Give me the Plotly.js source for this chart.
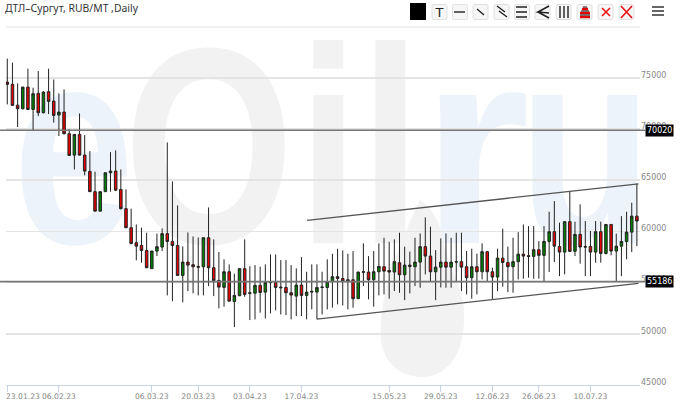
<!DOCTYPE html>
<html>
<head>
<meta charset="utf-8">
<script src="https://cdn.plot.ly/plotly-3.0.1.min.js"></script>
<style>
  html, body { margin: 0; padding: 0; background: #fff; overflow: hidden; }
  #back { position: absolute; left: 0; top: 0; }
  #chart { position: absolute; left: 0; top: 0; width: 680px; height: 403px; }
</style>
</head>
<body>
<svg id="back" width="680" height="403" xmlns="http://www.w3.org/2000/svg">
  <!-- site watermark -->
  <g font-family="Liberation Sans" font-weight="bold" font-size="280">
    <text transform="translate(13,243) scale(.78,1)" fill="#ecf3fa">e</text>
    <text transform="translate(124,243) scale(.78,1)" fill="#f2f2f2">O</text>
    <text transform="translate(298,243) scale(.78,1)" fill="#f2f2f2">i</text>
    <text transform="translate(360,243) scale(.78,1)" fill="#f2f2f2">l</text>
    <text transform="translate(421,243) scale(1,1)" fill="#ecf3fa">r</text>
    <text transform="translate(519,243) scale(.78,1)" fill="#ecf3fa">u</text>
  </g>
  <path d="M420,200 C396,250 378,300 381,340 C384,366 404,378 425,377 C450,375 466,350 464,310 C462,285 446,262 442,235 C440,222 430,206 420,200 Z" fill="#f2f2f2"/>
  <!-- drawing toolbar -->
  <rect x="410" y="3" width="16" height="17" fill="#000"/>
  <g id="buttons" fill="#f6f6f6" stroke="#e0e0e0"></g>
  <g fill="none" stroke="#222" stroke-width="1.4">
    <text x="439.5" y="17" font-family="DejaVu Sans" font-size="13" text-anchor="middle" fill="#222" stroke="none">T</text>
    <path d="M454,12 H465"/>
    <path d="M477,9 L484,15"/>
    <path d="M497,6 L505,12 M499,11 L507,17"/>
    <path d="M516,7 H527 M516,12 H527 M516,17 H527" stroke-width="1.6"/>
    <path d="M549,6 L538,12 L549,13 M538,12 L549,18" stroke-width="1.6"/>
    <path d="M560,6 V18 M564,6 V18 M568,6 V18" stroke-width="1.4"/>
    <path d="M580,17 H590 M580,13 H590 M582,9 H588" stroke="#e00000" stroke-width="2.4"/>
    <path d="M580,15 H590 M581,11 H589 M583,7 H587" stroke="#111" stroke-width="1.2"/>
    <path d="M602,8 L610,16 M610,8 L602,16" stroke="#ee1111" stroke-width="1.6"/>
    <path d="M621,6 L632,18 M632,6 L621,18" stroke="#ee1111" stroke-width="1.6"/>
    <path d="M652,7 H664 M652,11 H664 M652,15 H664" stroke="#666" stroke-width="2"/>
  </g>
</svg>
<div id="chart"></div>
<script>
var opens = [74580,74360,72330,71980,74090,71910,73480,71590,73640,72730,
  71360,71650,69540,67450,69470,67450,65860,63880,61980,63880,
  65730,65890,64100,62220,60360,58900,58630,58140,56360,58080,
  58470,59780,59020,58630,55700,57000,56750,56580,56550,59380,
  56450,55210,54530,56060,53160,53720,56360,54010,53970,54730,
  54070,54990,54990,54560,54530,54010,53680,54760,53750,54070,
  54070,54530,54530,55090,55580,55410,55120,55280,53430,56000,
  56030,55280,56060,56550,56190,56030,56940,55770,56710,56550,
  57000,58510,57590,56060,56510,57000,56510,57000,57040,56550,
  55480,56550,56060,58020,56060,55540,57390,56970,56550,57040,
  57780,57630,57560,58210,57660,59020,59970,58530,57980,60950,
  58060,59710,58530,58530,57980,59970,57850,60680,58080,58560,
  59020,59930,61490];
var closes = [74360,72310,71980,74090,71910,73450,71590,73600,72700,71330,
  71650,69540,67420,69470,67450,65890,63880,61980,63880,65730,
  65890,64030,62220,60360,58830,58560,58140,56450,58080,58510,
  59780,59020,58630,55700,57000,56710,56550,56510,59380,56450,
  55190,54560,56060,53190,53750,56360,53850,53950,54730,54040,
  55020,55090,54530,54500,54010,53780,54760,53750,54070,54140,
  54530,54560,55090,55580,55410,55120,55280,53430,56030,56060,
  55280,56060,56580,56120,56030,57040,55770,56710,56580,57000,
  58510,57590,56060,56510,57000,56510,57000,57040,56510,55480,
  56550,56060,58020,56060,55540,57390,56970,56550,57040,57780,
  57590,57560,58210,57660,59020,59970,58560,57980,60950,58050,
  59710,58470,58470,57980,59970,57850,60680,58080,58560,59020,
  59930,61490,61010];
var highs = [76870,76480,74450,74130,75890,74030,75660,73700,75890,74840,
  73480,73870,69960,69470,71520,69400,67840,65830,63880,65730,
  67740,67910,66050,64100,62220,60680,60360,59870,58080,59780,
  60290,68690,64880,62540,58540,59900,59510,59410,59410,62340,
  59220,57980,57270,56780,55870,56360,59220,56610,56710,56550,
  56780,57750,57750,57200,57200,56710,56390,57490,56060,56780,
  56780,56060,57270,57820,58310,58140,57820,58080,56060,58830,
  57590,58080,58830,59380,58990,59220,59870,58510,58020,59380,
  59800,61370,60460,58170,59320,59800,59380,59870,59870,58080,
  58310,57820,58830,58020,56450,58310,60260,58510,59380,59930,
  60680,60520,60520,59050,60520,61920,62960,60850,60950,63880,
  60950,62640,61010,60030,61010,60950,60680,60680,59780,61490,
  61920,62800,64660];
var lows = [72400,72240,70190,71910,71850,69800,71260,71520,71460,70620,
  69310,69470,67420,66050,67420,65470,63880,61980,61980,63880,
  63880,63940,62150,60360,58730,57170,56940,56450,56360,57590,
  58080,53750,53190,55700,53070,54170,53950,53750,53750,54660,
  53680,52480,52650,53190,50650,53680,53620,51340,51410,52060,
  51500,51990,52290,51890,51830,51410,51730,51730,51410,52380,
  51410,51890,52380,52550,52870,52770,52380,52550,53430,54660,
  53360,52650,53750,53850,53430,54170,54010,53290,53950,54660,
  54500,55800,55150,53290,54530,54500,54500,55120,54170,53850,
  53430,53850,55310,55150,53360,54170,54600,54070,54010,55310,
  55380,55480,55380,55380,55090,56030,57000,55630,55800,57980,
  57590,56850,55630,55630,56940,56940,57750,57660,55150,55630,
  57270,57980,58560];

var dateTicks = [0, 10, 28, 37, 47, 57, 74, 84, 94, 103, 113];
var dateLabels = ["23.01.23", "06.02.23", "06.03.23", "20.03.23", "03.04.23", "17.04.23",
  "15.05.23", "29.05.23", "12.06.23", "26.06.23", "10.07.23"];
var priceTicks = [45000, 50000, 55000, 60000, 65000, 70000, 75000];

// the drawn lines sit a touch below the printed levels in the picture
var levelLabels = ["70020", "55186"];
var levelPrices = [69880, 55100];
var upperTrendX = [58.1, 122.3], upperTrendY = [61070, 64650];
var lowerTrendX = [60, 122.3], lowerTrendY = [51430, 54930];

var chartTitle = "ДТЛ–Сургут, RUB/MT ,Daily";

// toolbar button frames
var buttonLefts = [432, 452.5, 473, 494, 514.5, 535, 556, 577, 598, 619];
document.getElementById("buttons").innerHTML = buttonLefts.map(function (x) {
  return '<rect x="' + x + '" y="4.5" width="15" height="15" rx="2"/>';
}).join("");

var priceFont = { family: "DejaVu Sans", size: 8, color: "#888" };
var dateFont = { family: "DejaVu Sans", size: 7.6, color: "#888" };
var plotWidth = 634; // 680 - margins

var candles = {
  type: "candlestick",
  x: opens.map(function (_, i) { return i; }),
  open: opens, high: highs, low: lows, close: closes,
  increasing: { line: { color: "#222", width: 1 }, fillcolor: "#007f00" },
  decreasing: { line: { color: "#222", width: 1 }, fillcolor: "#e60000" },
  whiskerwidth: 0,
  hoverinfo: "skip",
  showlegend: false
};

function trendLine(x, y) {
  return { type: "scatter", mode: "lines", x: x, y: y, hoverinfo: "skip", showlegend: false,
    line: { color: "#555", width: 1.3 } };
}

var levelShapes = levelPrices.map(function (v) {
  return { type: "line", xref: "paper", yref: "y", x0: -6 / plotWidth, x1: 639 / plotWidth, y0: v, y1: v,
    line: { color: "#777", width: 1.6 } };
});
var levelTags = levelPrices.map(function (v, i) {
  return { xref: "paper", yref: "y", x: 639 / plotWidth, y: v, xanchor: "left", yanchor: "middle",
    text: levelLabels[i], showarrow: false, bgcolor: "#000", borderpad: 1,
    font: { family: "DejaVu Sans", size: 8, color: "#fff" } };
});

var layout = {
  width: 680,
  height: 403,
  margin: { l: 6, r: 40, t: 27, b: 18, pad: 0 },
  paper_bgcolor: "rgba(0,0,0,0)",
  plot_bgcolor: "rgba(0,0,0,0)",
  title: {
    text: chartTitle,
    x: 5 / 680, xref: "container", xanchor: "left",
    y: 1 - 8.5 / 403, yref: "container", yanchor: "middle",
    font: { family: "Noto Sans", size: 10.4, color: "#333" }
  },
  xaxis: {
    type: "linear",
    range: [-0.25, 122.6],
    rangeslider: { visible: false },
    tickmode: "array",
    tickvals: dateTicks,
    ticktext: dateLabels.map(function (t, i) { return i === 0 ? "" : t; }),
    tickfont: dateFont,
    tickangle: 0,
    ticks: "outside",
    ticklen: 6,
    tickcolor: "#c6d4e6",
    ticklabelstandoff: -2,
    showline: true,
    linecolor: "#c6d4e6",
    showgrid: false,
    zeroline: false
  },
  yaxis: {
    side: "right",
    range: [45000, 79961],
    tickmode: "array",
    tickvals: priceTicks,
    ticktext: priceTicks.map(String),
    tickfont: priceFont,
    ticklabelshift: -3,
    ticklabelstandoff: 0,
    ticks: "",
    gridcolor: "#e4e4e4",
    gridwidth: 1.5,
    showline: false,
    zeroline: false
  },
  shapes: levelShapes.concat([
    { type: "line", xref: "paper", yref: "paper", x0: 0, x1: 1, y0: 1, y1: 1,
      line: { color: "#e4e4e4", width: 1 } }
  ]),
  annotations: levelTags.concat([
    { xref: "x", yref: "paper", x: 0, y: 0, xanchor: "left", yanchor: "top", xshift: -3, yshift: -5,
      text: dateLabels[0], showarrow: false, font: dateFont }
  ])
};

Plotly.newPlot("chart", [candles, trendLine(upperTrendX, upperTrendY), trendLine(lowerTrendX, lowerTrendY)],
  layout, { staticPlot: true, displayModeBar: false });
</script>
</body>
</html>
